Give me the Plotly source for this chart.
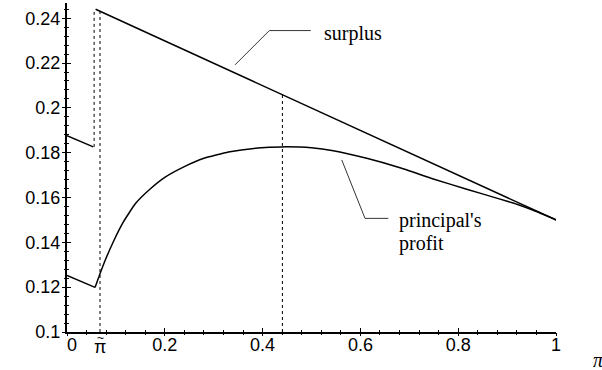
import plotly.graph_objects as go

# ---- data ----
surplus_low_x = [0.0, 0.0538]
surplus_low_y = [0.1876, 0.1826]
surplus_high_x = [0.0585, 1.0]
surplus_high_y = [0.2440, 0.1500]

profit_low_x = [0.0, 0.0573]
profit_low_y = [0.1252, 0.1199]
profit_x = [0.0573, 0.0675, 0.0800, 0.0950, 0.1150, 0.1400, 0.1700, 0.2000, 0.2400,
            0.2800, 0.3300, 0.3900, 0.4400, 0.5000, 0.5446, 0.6129, 0.6810, 0.7491,
            0.8174, 0.8855, 0.9200, 0.9536, 1.0]
profit_y = [0.1199, 0.1260, 0.1330, 0.1404, 0.1490, 0.1573, 0.1638, 0.1690, 0.1738,
            0.1775, 0.1803, 0.1821, 0.1826, 0.1822, 0.1809, 0.1775, 0.1733, 0.1683,
            0.1637, 0.1593, 0.1570, 0.1543, 0.1500]

pi_tilde = 0.0675
jump_x = 0.0555
peak_x = 0.4405

x_ticks = [0, 0.2, 0.4, 0.6, 0.8, 1]
x_labels = ["\u00a0\u00a00", "0.2", "0.4", "0.6", "0.8", "1"]
y_ticks = [0.10, 0.12, 0.14, 0.16, 0.18, 0.20, 0.22, 0.24]
y_labels = ["0.1", "0.12", "0.14", "0.16", "0.18", "0.2", "0.22", "0.24"]
x_minor = [round(0.04 * k, 4) for k in range(26) if k % 5 != 0]
y_minor = [round(0.1 + 0.004 * k, 4) for k in range(37) if k % 5 != 0]

X_RANGE = [0, 1]
Y_RANGE = [0.1, 0.2468]

fig = go.Figure()
line = dict(color="black", width=1.5)
fig.add_trace(go.Scatter(x=surplus_low_x, y=surplus_low_y, mode="lines", line=line))
fig.add_trace(go.Scatter(x=surplus_high_x, y=surplus_high_y, mode="lines", line=line))
fig.add_trace(go.Scatter(x=profit_low_x, y=profit_low_y, mode="lines", line=line))
fig.add_trace(go.Scatter(x=profit_x, y=profit_y, mode="lines",
                         line=dict(color="black", width=1.5, shape="spline", smoothing=0.4)))

# dotted guide lines
dot = dict(color="black", width=1, dash="dot")
fig.add_trace(go.Scatter(x=[jump_x, jump_x], y=[surplus_low_y[1], surplus_high_y[0]],
                         mode="lines", line=dot))
fig.add_trace(go.Scatter(x=[pi_tilde, pi_tilde], y=[0.1, 0.2430], mode="lines", line=dot))
fig.add_trace(go.Scatter(x=[peak_x, peak_x], y=[0.1, 0.2058], mode="lines", line=dot))

# leader lines for labels
lead = dict(color="black", width=0.8)
fig.add_trace(go.Scatter(x=[0.3436, 0.4137, 0.4984], y=[0.2192, 0.2345, 0.2345],
                         mode="lines", line=lead))
fig.add_trace(go.Scatter(x=[0.5618, 0.6094, 0.6571], y=[0.1768, 0.1507, 0.1507],
                         mode="lines", line=lead))

# invisible trace for the overlay axes (crossing ticks)
fig.add_trace(go.Scatter(x=[0.5], y=[0.15], xaxis="x2", yaxis="y2", mode="markers",
                         marker=dict(opacity=0), hoverinfo="skip"))

serif = dict(family="Liberation Serif, Times New Roman, serif", size=20, color="black")
fig.add_annotation(x=0.5209, y=0.2334, text="surplus", showarrow=False,
                   xanchor="left", yanchor="middle", font=serif)
fig.add_annotation(x=0.6748, y=0.1498, text="principal's", showarrow=False,
                   xanchor="left", yanchor="middle", font=serif)
fig.add_annotation(x=0.6748, y=0.1393, text="profit", showarrow=False,
                   xanchor="left", yanchor="middle", font=serif)

sans = dict(family="Liberation Sans, Arial, sans-serif", size=18, color="black")
# plot area: top 3px, bottom 332px (height 329)
fig.add_annotation(x=pi_tilde, xref="x", y=(332 - 347) / 329, yref="paper", text="\u03c0",
                   showarrow=False, xanchor="center", yanchor="middle", font=sans, height=14)
fig.add_annotation(x=pi_tilde, xref="x", y=(332 - 338) / 329, yref="paper", text="~",
                   showarrow=False, xanchor="center", yanchor="middle", height=4,
                   font=dict(family="Liberation Sans, Arial, sans-serif", size=12, color="black"))
fig.add_annotation(x=(598 - 67) / 489, xref="paper", y=(332 - 360) / 329, yref="paper",
                   text="<i>\u03c0</i>", showarrow=False, xanchor="center", yanchor="middle",
                   font=dict(family="Liberation Serif, Times New Roman, serif", size=20, color="black"))

fig.update_layout(
    width=602, height=370,
    margin=dict(l=67, r=46, t=3, b=38, autoexpand=False),
    paper_bgcolor="white", plot_bgcolor="white",
    showlegend=False,
    xaxis=dict(range=X_RANGE, tickmode="array", tickvals=x_ticks, ticktext=x_labels,
               ticks="inside", ticklen=4, tickwidth=1, tickcolor="black", automargin=False,
               showline=True, linecolor="black", linewidth=1.5, showgrid=False, zeroline=False,
               tickfont=sans, ticklabelstandoff=-4,
               minor=dict(tickmode="array", tickvals=x_minor, ticks="inside", ticklen=2,
                          tickwidth=1, tickcolor="black", showgrid=False)),
    yaxis=dict(range=Y_RANGE, tickmode="array", tickvals=y_ticks, ticktext=y_labels,
               ticks="inside", ticklen=4, tickwidth=1, tickcolor="black", automargin=False,
               showline=True, linecolor="black", linewidth=2, showgrid=False, zeroline=False,
               tickfont=sans, ticklabelstandoff=1,
               minor=dict(tickmode="array", tickvals=y_minor, ticks="inside", ticklen=2,
                          tickwidth=1, tickcolor="black", showgrid=False)),
    xaxis2=dict(range=X_RANGE, overlaying="x", anchor="y2", side="bottom", automargin=False,
                tickmode="array", tickvals=x_ticks, ticks="outside", ticklen=3, tickwidth=1,
                tickcolor="black", showticklabels=False, showline=False, showgrid=False,
                zeroline=False,
                minor=dict(tickmode="array", tickvals=x_minor, ticks="outside", ticklen=2,
                           tickwidth=1, tickcolor="black", showgrid=False)),
    yaxis2=dict(range=Y_RANGE, overlaying="y", anchor="x2", side="left", automargin=False,
                tickmode="array", tickvals=y_ticks, ticks="outside", ticklen=4, tickwidth=1,
                tickcolor="black", showticklabels=False, showline=False, showgrid=False,
                zeroline=False,
                minor=dict(tickmode="array", tickvals=y_minor, ticks="outside", ticklen=2,
                           tickwidth=1, tickcolor="black", showgrid=False)),
)

fig.write_html("out.html", config={"displayModeBar": False},
               post_script="document.body.style.margin='0px';document.body.style.overflow='hidden';")
